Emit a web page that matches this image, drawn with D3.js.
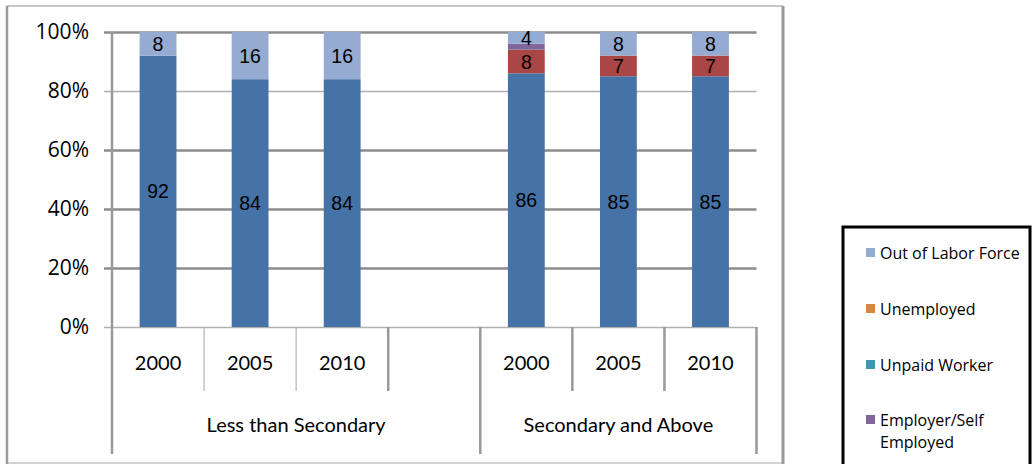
<!DOCTYPE html>
<html>
<head>
<meta charset="utf-8">
<script src="https://cdn.jsdelivr.net/npm/d3@7"></script>
<style>
  html, body { margin: 0; padding: 0; background: #fff; }
  svg { display: block; }
</style>
</head>
<body>
<svg id="chart" width="1032" height="464"></svg>
<script>
// Employment status by education level, shares of population (%)
const groups = ["Less than Secondary", "Secondary and Above"];
const years = ["2000", "2005", "2010"];
const slots = ["L2000", "L2005", "L2010", "gap", "S2000", "S2005", "S2010"];
const slotYears = ["2000", "2005", "2010", "", "2000", "2005", "2010"];
const barSlots = ["L2000", "L2005", "L2010", "S2000", "S2005", "S2010"];

// stacked from bottom to top
const seriesNames = ["Employee", "Unemployed", "Unpaid Worker", "Employer/Self Employed", "Out of Labor Force"];
const employee   = [92, 84, 84, 86, 85, 85];
const unemployed = [0, 0, 0, 8, 7, 7];
const unpaid     = [0, 0, 0, 0, 0, 0];
const employer   = [0, 0, 0, 2, 0, 0];
const outOfLabor = [8, 16, 16, 4, 8, 8];
const labelledSeries = ["Employee", "Unemployed", "Out of Labor Force"];

const yTicks = [0, 20, 40, 60, 80, 100];

const legendNames = ["Out of Labor Force", "Unemployed", "Unpaid Worker", ["Employer/Self", "Employed"]];
const legendColors = ["#95abd1", "#dc853e", "#3e97af", "#7f679c"];

const seriesColors = {
  "Employee": "#4572a7",
  "Unemployed": "#aa4643",
  "Unpaid Worker": "#3e97af",
  "Employer/Self Employed": "#7f679c",
  "Out of Labor Force": "#95abd1"
};

const rows = barSlots.map((s, i) => ({
  slot: s,
  "Employee": employee[i],
  "Unemployed": unemployed[i],
  "Unpaid Worker": unpaid[i],
  "Employer/Self Employed": employer[i],
  "Out of Labor Force": outOfLabor[i]
}));

const svg = d3.select("#chart");

// chart frame
const frame = { left: 7, top: 6, right: 783, bottom: 463 };
svg.append("line").attr("x1", frame.left).attr("x2", frame.right).attr("y1", frame.top).attr("y2", frame.top)
  .attr("stroke", "#b4b4b4").attr("stroke-width", 1.5);
svg.append("line").attr("x1", frame.left).attr("x2", frame.right).attr("y1", frame.bottom).attr("y2", frame.bottom)
  .attr("stroke", "#c4c4c4").attr("stroke-width", 1.5);
svg.append("line").attr("x1", frame.left).attr("x2", frame.left).attr("y1", frame.top).attr("y2", 464)
  .attr("stroke", "#9a9a9a").attr("stroke-width", 2.5);
svg.append("line").attr("x1", frame.right).attr("x2", frame.right).attr("y1", frame.top).attr("y2", 464)
  .attr("stroke", "#9a9a9a").attr("stroke-width", 3);

const plot = { left: 112, right: 756.5, top: 32, bottom: 327 };

const x = d3.scaleBand().domain(slots).range([plot.left, plot.right]).paddingInner(0).paddingOuter(0);
const y = d3.scaleLinear().domain([0, 100]).range([plot.bottom, plot.top]);

// horizontal gridlines with tick marks
const yAxis = d3.axisLeft(y).tickValues(yTicks).tickFormat(d => d + "%")
  .tickSize(-(plot.right - plot.left)).tickPadding(14);
const gy = svg.append("g").attr("transform", `translate(${plot.left},0)`).call(yAxis);
gy.select(".domain").remove();
gy.selectAll(".tick line")
  .attr("x1", -8)
  .attr("stroke", d => (d === 0 || d === 80) ? "#b0b0b0" : "#8c8c8c")
  .attr("stroke-width", d => (d === 0 || d === 80) ? 1.5 : 2.5);
gy.selectAll(".tick text")
  .attr("font-family", "'Open Sans', sans-serif")
  .attr("font-size", 21)
  .attr("fill", "#000")
  .attr("x", -23);

// stacked bars
const stack = d3.stack().keys(seriesNames);
const stacked = stack(rows);
const barW = x.bandwidth() * 0.4;

const layers = svg.append("g").selectAll("g").data(stacked).join("g")
  .attr("fill", d => seriesColors[d.key]);
layers.selectAll("rect").data(d => d.filter(p => p[1] - p[0] > 0)).join("rect")
  .attr("x", d => x(d.data.slot) + (x.bandwidth() - barW) / 2)
  .attr("width", barW)
  .attr("y", d => y(d[1]))
  .attr("height", d => y(d[0]) - y(d[1]));

// value labels, centred in their segments
const labelG = svg.append("g")
  .attr("font-family", "'Liberation Sans', sans-serif")
  .attr("font-size", 19.5)
  .attr("fill", "#000")
  .attr("text-anchor", "middle");
stacked.filter(s => labelledSeries.includes(s.key)).forEach(s => {
  labelG.selectAll(null).data(s.filter(p => p[1] - p[0] > 0)).join("text")
    .attr("x", d => x(d.data.slot) + x.bandwidth() / 2)
    .attr("y", d => y((d[0] + d[1]) / 2))
    .attr("dy", "0.36em")
    .text(d => d[1] - d[0]);
});

// category axis: year cells and group cells
const axisG = svg.append("g");
const innerBottom = 391, outerBottom = 454;
// left value axis line
axisG.append("line").attr("x1", plot.left).attr("x2", plot.left).attr("y1", plot.top).attr("y2", outerBottom)
  .attr("stroke", "#999").attr("stroke-width", 2.5);

slots.forEach((s, i) => {
  const xr = x(s) + x.bandwidth();
  const groupEdge = (s === "gap" || i === slots.length - 1);
  const thin = (s === "L2000" || s === "L2005");
  axisG.append("line")
    .attr("x1", xr).attr("x2", xr)
    .attr("y1", plot.bottom).attr("y2", groupEdge ? outerBottom : innerBottom)
    .attr("stroke", thin ? "#b4b4b4" : "#999")
    .attr("stroke-width", thin ? 1.2 : 2.5);
});

const catFont = "Lato, 'Open Sans', sans-serif";
axisG.selectAll("text.year").data(slots.filter((s, i) => slotYears[i] !== "")).join("text")
  .attr("class", "year")
  .attr("x", d => x(d) + x.bandwidth() / 2)
  .attr("y", 370)
  .attr("text-anchor", "middle")
  .attr("font-family", catFont)
  .attr("font-size", 20)
  .attr("fill", "#000")
  .text(d => slotYears[slots.indexOf(d)]);

const groupSpans = [["L2000", "gap"], ["S2000", "S2010"]];
axisG.selectAll("text.group").data(groups).join("text")
  .attr("class", "group")
  .attr("x", (d, i) => (x(groupSpans[i][0]) + x(groupSpans[i][1]) + x.bandwidth()) / 2)
  .attr("y", 432)
  .attr("text-anchor", "middle")
  .attr("font-family", catFont)
  .attr("font-size", 20)
  .attr("fill", "#000")
  .text(d => d);

// legend
const lg = svg.append("g");
lg.append("rect").attr("x", 843).attr("y", 227).attr("width", 187).attr("height", 250)
  .attr("fill", "#fff").attr("stroke", "#000").attr("stroke-width", 3);
const legendY = [253, 309, 365, 420];
legendNames.forEach((name, i) => {
  lg.append("rect").attr("x", 866).attr("y", legendY[i] - 5).attr("width", 9).attr("height", 9)
    .attr("fill", legendColors[i]);
  const t = lg.append("text").attr("x", 880).attr("y", legendY[i])
    .attr("font-family", "'Open Sans', sans-serif").attr("font-size", 16).attr("fill", "#000");
  const lines = Array.isArray(name) ? name : [name];
  lines.forEach((ln, j) => t.append("tspan").attr("x", 880).attr("dy", j === 0 ? "0.35em" : "1.4em").text(ln));
});
</script>
</body>
</html>
